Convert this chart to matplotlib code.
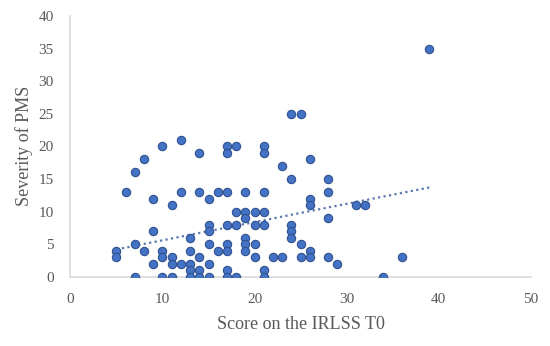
import numpy as np
import matplotlib
matplotlib.use("Agg")
import matplotlib.pyplot as plt

# Score on the IRLSS T0 (x) and severity of PMS (y)
irlss = [5, 5, 6, 7, 7, 7, 8, 8, 9, 9, 9,
         10, 10, 10, 10, 11, 11, 11, 11, 12, 12, 12,
         13, 13, 13, 13, 13, 14, 14, 14, 14, 14,
         15, 15, 15, 15, 15, 15, 16, 16,
         17, 17, 17, 17, 17, 17, 17, 17, 18, 18, 18, 18,
         19, 19, 19, 19, 19, 19, 20, 20, 20, 20,
         21, 21, 21, 21, 21, 21, 21, 22, 23, 23,
         24, 24, 24, 24, 24, 25, 25, 25,
         26, 26, 26, 26, 26, 28, 28, 28, 28, 29,
         31, 32, 34, 36, 39]
pms = [4, 3, 13, 16, 5, 0, 18, 4, 12, 7, 2,
       20, 4, 3, 0, 11, 3, 2, 0, 21, 13, 2,
       6, 4, 2, 1, 0, 19, 13, 3, 1, 0,
       12, 8, 7, 5, 2, 0, 13, 4,
       20, 19, 13, 8, 5, 4, 1, 0, 20, 10, 8, 0,
       13, 10, 9, 6, 5, 4, 10, 8, 5, 3,
       20, 19, 13, 10, 8, 1, 0, 3, 17, 3,
       25, 15, 8, 7, 6, 25, 5, 3,
       18, 12, 11, 4, 3, 15, 13, 9, 3, 2,
       11, 11, 0, 3, 35]

# linear trendline as drawn in the chart (ends)
trend_x = [5, 39]
trend_y = [4.2, 13.7]

x_ticks = [0, 10, 20, 30, 40, 50]
y_ticks = [0, 5, 10, 15, 20, 25, 30, 35, 40]

plt.rcParams['font.family'] = ['Liberation Serif', 'DejaVu Serif']

fig = plt.figure(figsize=(5.5, 3.46), dpi=100)
ax = fig.add_axes([0.128, 0.2, 0.837, 0.754])

ax.scatter(irlss, pms, s=36, color='#4472C4', edgecolor='#2F528F',
           linewidth=0.8, zorder=3)

ax.plot(trend_x, trend_y, linestyle=(0, (1, 1.5)), color='#5A77AE',
        linewidth=1.6, zorder=2)

ax.set_xlim(0, 50)
ax.set_ylim(0, 40)
ax.set_xticks(x_ticks)
ax.set_yticks(y_ticks)
ax.tick_params(length=0, labelsize=11, colors='#595959')
ax.tick_params(axis='x', pad=12)
ax.tick_params(axis='y', pad=12)

for side in ['top', 'right']:
    ax.spines[side].set_visible(False)
for side in ['left', 'bottom']:
    ax.spines[side].set_color('#D9D9D9')
    ax.spines[side].set_linewidth(1.2)

ax.set_xlabel('Score on the IRLSS T0', fontsize=13, color='#595959', labelpad=7)
ax.set_ylabel('Severity of PMS', fontsize=13, color='#595959', labelpad=4)

fig.savefig('out.png', dpi=100)
